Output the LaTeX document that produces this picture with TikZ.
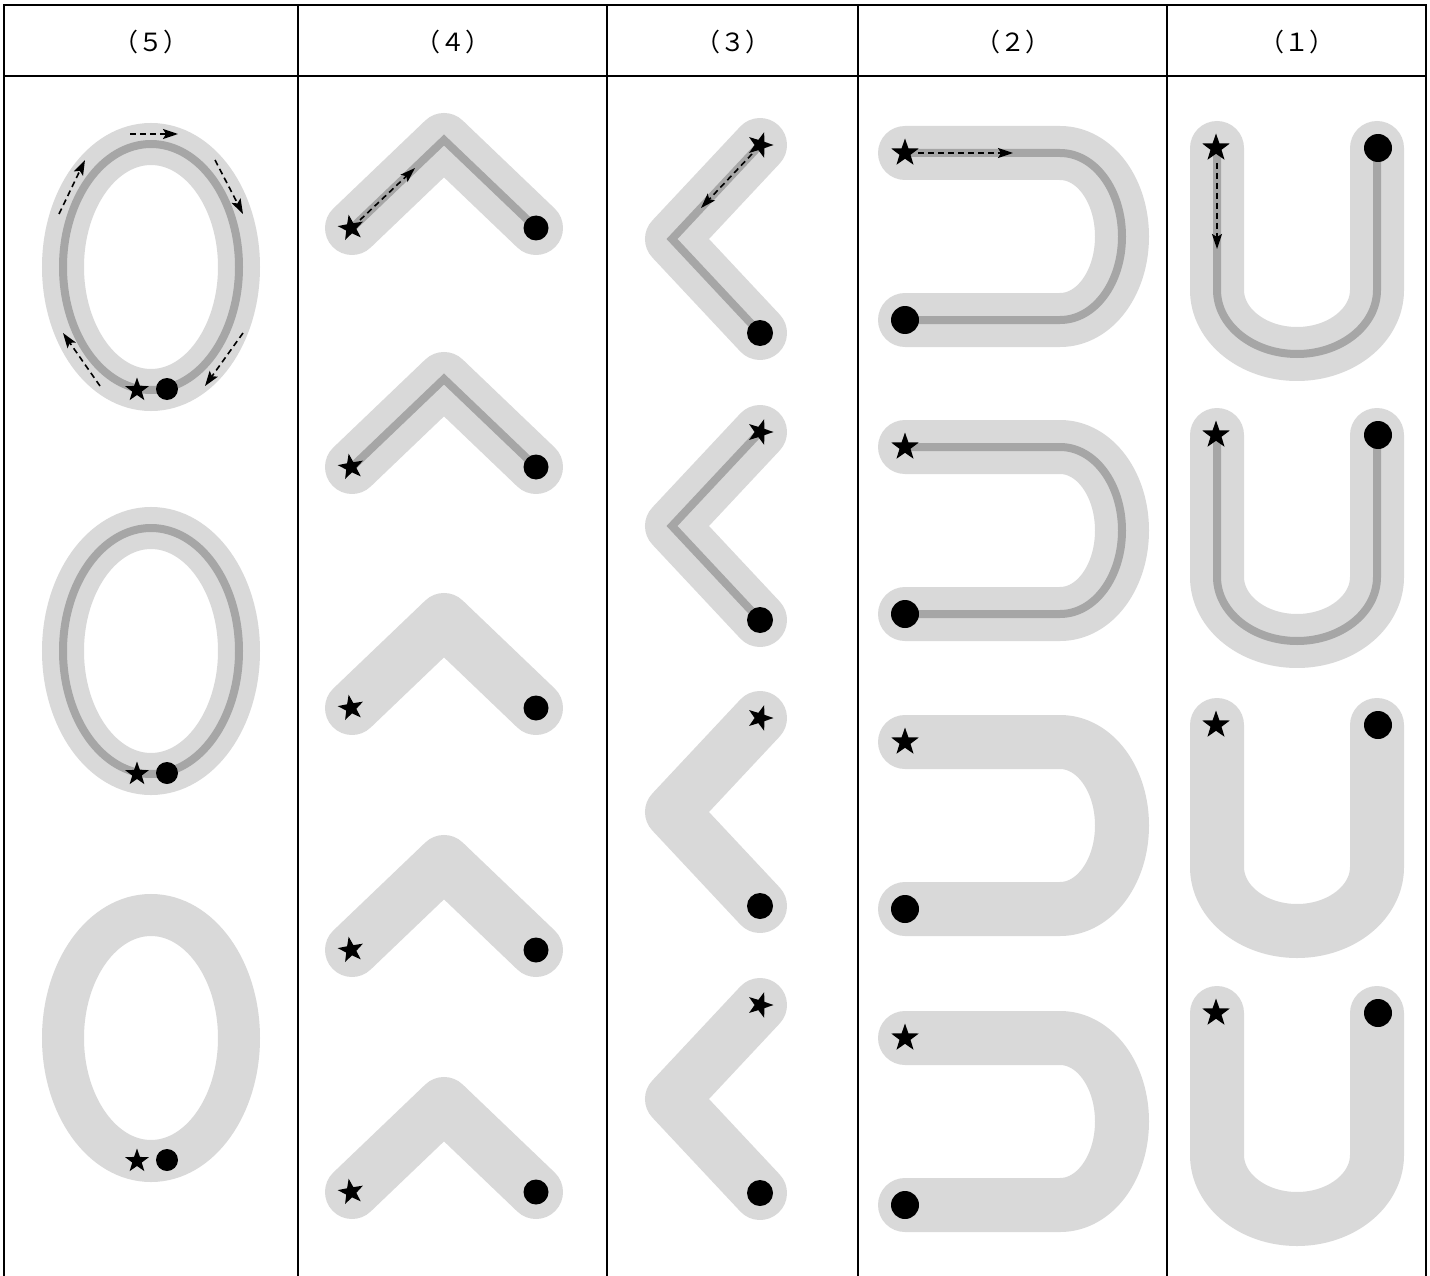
\documentclass[tikz,border=0pt]{standalone}
\usepackage{fontspec}
\newfontfamily\jpfont{Noto Sans CJK JP}
\usetikzlibrary{arrows.meta,shapes.geometric}
\definecolor{bandgray}{HTML}{D9D9D9}
\definecolor{trackgray}{HTML}{A6A6A6}
\tikzset{
  band/.style={draw=bandgray, line width=54pt, line cap=round, line join=round},
  ringband/.style={draw=bandgray, line width=42pt},
  track/.style={draw=trackgray, line width=8pt, line join=miter},
  flow/.style={draw=black, line width=1.6pt, dash pattern=on 6pt off 4pt,
    -{Stealth[length=15pt,width=10pt,inset=3pt]}},
  startmark/.style={star, star points=5, star point ratio=2.5, fill=black,
    draw=none, minimum size=29pt, inner sep=0pt},
  endmark/.style={circle, fill=black, draw=none, minimum size=27pt, inner sep=0pt},
  rule/.style={draw=black, line width=2.5pt},
  headtext/.style={font=\jpfont\fontsize{25}{30}\selectfont, inner sep=0pt}
}
\begin{document}
\begin{tikzpicture}[x=1pt,y=-1pt]
\useasboundingbox (0,0) rectangle (1430,1276);
\fill[white] (0,0) rectangle (1430,1276);

% ---------- column (5): ellipses ----------
\foreach \c [count=\i] in {267,651,1038}{
  \draw[ringband] (151,\c) ellipse [x radius=88, y radius=123];
}
\foreach \c in {267,651}{
  \draw[track] (151,\c) ellipse [x radius=88, y radius=123];
}
\coordinate (e1s) at (130,134); \coordinate (e1e) at (178,134);
\coordinate (e2s) at (215,160); \coordinate (e2e) at (243,214);
\coordinate (e3s) at (243,333); \coordinate (e3e) at (205,386);
\coordinate (e4s) at (100,386); \coordinate (e4e) at (63,333);
\coordinate (e5s) at (59,214);  \coordinate (e5e) at (85,160);
\foreach \k in {1,...,5}{\draw[flow] (e\k s) -- (e\k e);}
\foreach \c [count=\i] in {267,651,1038}{
  \node[startmark, minimum size=25pt] (s5-\i) at (137,\c+123) {};
  \node[endmark, minimum size=22pt] (d5-\i) at (167,\c+122) {};
}

% ---------- column (4): chevrons ^ ----------
\foreach \t in {228,467,708,950,1192}{
  \draw[band] (352,\t) -- (444,\t-88) -- (536,\t);
}
\foreach \t in {228,467}{
  \draw[track] (352,\t) -- (444,\t-88) -- (536,\t);
}
\coordinate (f4s) at (360,220); \coordinate (f4e) at (415,168);
\draw[flow] (f4s) -- (f4e);
\foreach \t [count=\i] in {228,467,708,950,1192}{
  \node[startmark, minimum size=27pt, rotate=10] (s4-\i) at (351,\t) {};
  \node[endmark, minimum size=25pt] (d4-\i) at (536,\t) {};
}

% ---------- column (3): chevrons < ----------
\foreach \t in {145,432,718,1005}{
  \draw[band] (760,\t) -- (672,\t+94) -- (760,\t+188);
}
\foreach \t in {145,432}{
  \draw[track] (760,\t) -- (672,\t+94) -- (760,\t+188);
}
\coordinate (f3s) at (752,154); \coordinate (f3e) at (701,208);
\draw[flow] (f3s) -- (f3e);
\foreach \t [count=\i] in {145,432,718,1005}{
  \node[startmark, minimum size=27pt, rotate=-18] (s3-\i) at (760,\t) {};
  \node[endmark, minimum size=26pt] (d3-\i) at (760,\t+188) {};
}

% ---------- column (2): sideways U ----------
\foreach \t in {153,447,742,1038}{
  \draw[band] (905,\t) -- (1060,\t)
    .. controls (1094.8,\t) and (1122,\t+37.4) .. (1122,\t+83.5)
    .. controls (1122,\t+129.6) and (1094.8,\t+167) .. (1060,\t+167)
    -- (905,\t+167);
}
\foreach \t in {153,447}{
  \draw[track] (905,\t) -- (1060,\t)
    .. controls (1094.8,\t) and (1122,\t+37.4) .. (1122,\t+83.5)
    .. controls (1122,\t+129.6) and (1094.8,\t+167) .. (1060,\t+167)
    -- (905,\t+167);
}
\coordinate (f2s) at (918,153); \coordinate (f2e) at (1013,153);
\draw[flow] (f2s) -- (f2e);
\foreach \t [count=\i] in {153,447,742,1038}{
  \node[startmark] (s2-\i) at (905,\t) {};
  \node[endmark, minimum size=28pt] (d2-\i) at (905,\t+167) {};
}

% ---------- column (1): U ----------
\foreach \t in {148,435,725,1013}{
  \draw[band] (1217,\t) -- (1217,\t+142)
    .. controls (1217,\t+177.3) and (1252.8,\t+206) .. (1297,\t+206)
    .. controls (1341.2,\t+206) and (1377,\t+177.3) .. (1377,\t+142)
    -- (1377,\t);
}
\foreach \t in {148,435}{
  \draw[track] (1217,\t) -- (1217,\t+142)
    .. controls (1217,\t+177.3) and (1252.8,\t+206) .. (1297,\t+206)
    .. controls (1341.2,\t+206) and (1377,\t+177.3) .. (1377,\t+142)
    -- (1377,\t);
}
\coordinate (f1s) at (1217,163); \coordinate (f1e) at (1217,249);
\draw[flow] (f1s) -- (f1e);
\foreach \t [count=\i] in {148,435,725,1013}{
  \node[startmark] (s1-\i) at (1216,\t) {};
  \node[endmark, minimum size=28pt] (d1-\i) at (1378,\t) {};
}

% ---------- table ----------
\draw[rule] (4,1276) -- (4,5) -- (1426,5) -- (1426,1276);
\draw[rule] (4,76) -- (1426,76);
\foreach \x in {298,607,858,1167}{\draw[rule] (\x,5) -- (\x,1276);}
\node[headtext] (h5) at (151,42) {（５）};
\node[headtext] (h4) at (452.5,42) {（４）};
\node[headtext] (h3) at (732.5,42) {（３）};
\node[headtext] (h2) at (1012.5,42) {（２）};
\node[headtext] (h1) at (1296.5,42) {（１）};
\end{tikzpicture}
\end{document}
